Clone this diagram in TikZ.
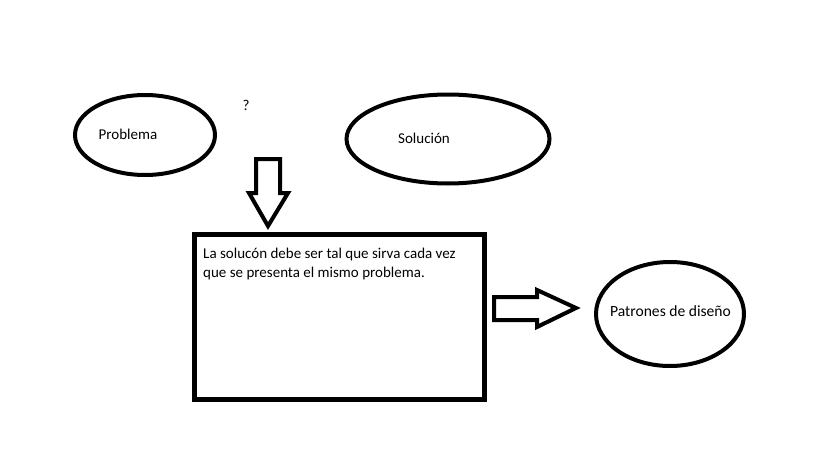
\documentclass[tikz,border=0pt]{standalone}
\usepackage{fontspec}
\setmainfont{Carlito}
\usetikzlibrary{shapes.geometric}
\tikzset{
  oval/.style={draw=black, line width=4pt, ellipse, inner sep=0pt},
  lbl/.style={font=\fontsize{15}{18.5}\selectfont, text=black, inner sep=0pt},
  widelbl/.style={font=\fontsize{15.6}{18.5}\selectfont, text=black, inner sep=0pt},
  blockarrow/.style={draw=black, line width=4pt, line join=miter, fill=white},
  mainbox/.style={draw=black, line width=5pt, inner sep=0pt}
}
\begin{document}
\begin{tikzpicture}[x=1pt,y=-1pt]
\useasboundingbox[fill=white] (0,0) rectangle (819,460);
% ellipses
\node[oval, minimum width=140pt, minimum height=80pt] (prob) at (145,135) {};
\node[oval, minimum width=203pt, minimum height=89pt] (sol) at (448,139) {};
\node[oval, minimum width=148pt, minimum height=104pt] (pat) at (670,314) {};
% labels
\node[lbl] (tprob) at (128,134) {Problema};
\node[lbl] (tq) at (246,105) {?};
\node[lbl] (tsol) at (424,138) {Solución};
\node[widelbl] (tpat) at (670.5,311) {Patrones de diseño};
% box
\draw[mainbox] (194.5,234.5) rectangle (484.5,399.5);
\node[lbl, anchor=north west, align=left] (tbox) at (203,248) {La solucón debe ser tal que sirva cada vez\\que se presenta el mismo problema.};
% down block arrow
\draw[blockarrow] (256,159) -- (280,159) -- (280,193) -- (288,193) -- (268,226) -- (249,193) -- (256,193) -- cycle;
% right block arrow
\draw[blockarrow] (494,297) -- (537,297) -- (537,290) -- (576,308) -- (537,327) -- (537,320) -- (494,320) -- cycle;
\end{tikzpicture}
\end{document}
